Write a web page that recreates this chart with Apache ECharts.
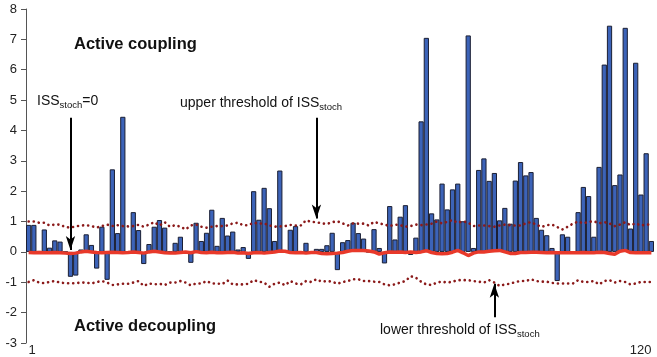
<!DOCTYPE html>
<html>
<head>
<meta charset="utf-8">
<script src="https://cdn.jsdelivr.net/npm/echarts@6/dist/echarts.min.js"></script>
<style>
  html, body { margin: 0; padding: 0; background: #fff; }
  #chart { width: 657px; height: 357px; }
</style>
</head>
<body>
<div id="chart"></div>
<script>
// categories 1..120 (sample index)
var categories = [];
for (var i = 1; i <= 120; i++) categories.push(String(i));

// bar heights
var issValues = [
  0.89, 0.89, 0.03, 0.74, 0.14, 0.38, 0.34, 0, -0.82, -0.78,
  0.08, 0.58, 0.23, -0.55, 0.83, -0.92, 2.72, 0.62, 4.45, 0,
  1.31, 0.72, -0.4, 0.26, 0.83, 1.05, 0.8, 0, 0.3, 0.5,
  0, -0.36, 0.96, 0.36, 0.63, 1.39, 0.2, 1.12, 0.54, 0.67,
  0.08, 0.16, -0.23, 2.0, 1.06, 2.11, 1.44, 0.36, 2.68, 0,
  0.73, 0.85, 0, 0.3, 0, 0.1, 0.1, 0.22, 0.63, -0.6,
  0.32, 0.39, 0.96, 0.62, 0.44, 0, 0.75, 0.13, -0.38, 1.51,
  0.41, 1.16, 1.54, -0.1, 0.47, 4.3, 7.05, 1.27, 1.07, 2.25,
  1.4, 2.06, 2.25, 1.01, 7.13, 0.13, 2.7, 3.08, 2.34, 2.6,
  1.04, 1.45, 0.93, 2.35, 2.96, 2.52, 2.63, 1.12, 0.73, 0.55,
  0.13, -0.96, 0.58, 0.5, 0, 1.31, 2.14, 1.84, 0.5, 2.8,
  6.17, 7.45, 2.2, 2.55, 7.38, 0.77, 6.23, 1.89, 3.25, 0.36
];

// ISS_stoch (red line near zero)
var issStoch = [
  -0.02, -0.03, -0.02, -0.03, -0.03, -0.02, -0.03, -0.04, -0.05, -0.04,
  0, 0.02, 0, -0.02, -0.03, -0.02, -0.01, -0.02, -0.03, -0.02,
  0, -0.02, -0.04, 0, 0.02, 0, -0.03, -0.04, -0.04, -0.02,
  0, -0.03, 0.01, -0.02, -0.03, -0.01, -0.03, -0.03, -0.02, -0.01,
  -0.04, -0.03, -0.05, -0.03, -0.02, -0.04, -0.02, 0, 0.03, 0.02,
  -0.02, -0.03, -0.02, -0.04, -0.02, -0.02, -0.05, -0.06, -0.05, -0.04,
  -0.02, 0.02, 0.05, 0.05, 0.05, 0.03, 0, -0.07, -0.03, 0,
  -0.01, 0, -0.02, 0, -0.02, 0, 0.04, -0.02, -0.05, -0.06,
  -0.05, -0.01, 0.05, -0.03, -0.12, -0.04, 0, 0, 0.02, 0.04,
  0.05, 0, -0.05, -0.05, -0.02, -0.02, -0.01, -0.01, -0.02, -0.03,
  -0.02, -0.03, -0.03, -0.03, -0.03, -0.03, -0.02, -0.03, -0.03, -0.01,
  -0.02, -0.05, -0.08, 0.02, 0.05, -0.02, -0.03, -0.03, -0.03, -0.03
];

// upper threshold of ISS_stoch (dotted)
var upperThreshold = [
  1.0, 1.0, 0.96, 0.96, 0.87, 0.9, 0.9, 0.82, 0.8, 0.84,
  0.87, 0.88, 0.85, 0.8, 0.85, 0.9, 0.85, 0.88, 0.85, 0.84,
  0.85, 0.89, 0.83, 0.9, 0.98, 0.87, 0.98, 0.83, 0.88, 0.83,
  0.74, 0.87, 0.9, 0.83, 0.8, 0.83, 0.85, 0.85, 0.87, 0.94,
  0.96, 0.88, 0.88, 0.96, 0.93, 0.94, 0.87, 0.83, 0.84, 0.85,
  0.89, 0.87, 0.87, 1.04, 0.99, 0.98, 0.94, 0.92, 0.98, 1.01,
  0.94, 0.87, 0.94, 0.93, 0.93, 0.87, 0.99, 0.94, 0.9, 0.85,
  0.9, 0.88, 0.83, 0.85, 0.9, 0.88, 0.9, 0.93, 1.0, 0.94,
  0.99, 1.05, 0.96, 1.01, 0.96, 0.85, 0.87, 0.87, 0.85, 0.83,
  0.87, 0.9, 0.88, 0.87, 0.87, 0.94, 0.98, 0.9, 0.82, 0.88,
  0.9, 0.82, 0.74, 0.83, 0.93, 1.0, 0.94, 0.99, 1.01, 0.94,
  0.98, 0.94, 0.85, 0.9, 0.98, 0.88, 0.94, 0.87, 0.9, 0.9
];

// lower threshold of ISS_stoch (dotted)
var lowerThreshold = [
  -0.99, -0.93, -1.01, -1.03, -0.99, -0.96, -1.01, -1.03, -1.03, -1.03,
  -1.01, -1.01, -1.04, -0.99, -0.96, -1.01, -1.09, -1.07, -1.05, -1.05,
  -1.01, -0.96, -1.12, -1.04, -1.07, -1.05, -1.09, -1.01, -1.01, -0.96,
  -1.01, -1.1, -1.04, -1.04, -0.96, -1.04, -1.04, -1.06, -0.94, -1.07,
  -1.07, -1.07, -1.05, -0.93, -0.98, -1.01, -1.15, -1.05, -1.01, -1.1,
  -0.96, -1.04, -1.07, -0.96, -0.99, -0.9, -0.98, -0.96, -0.98, -1.05,
  -0.99, -0.96, -0.9, -0.9, -0.96, -0.96, -0.98, -0.99, -1.07, -1.1,
  -1.07, -1.01, -0.96, -0.8, -0.85, -0.98, -1.07, -1.09, -1.01, -0.98,
  -1.01, -0.98, -0.93, -0.93, -0.93, -0.96, -0.98, -1.01, -0.93, -1.01,
  -1.12, -1.07, -1.05, -0.99, -0.96, -0.96, -0.9, -0.96, -0.98, -0.98,
  -1.02, -1.04, -1.04, -1.04, -1.04, -0.93, -0.99, -0.99, -0.96, -1.07,
  -0.96, -0.93, -1.01, -0.96, -0.99, -1.07, -1.04, -0.99, -0.99, -0.99
];

var yTicks = { min: -3, max: 8, interval: 1 };

var fontFam = 'Liberation Sans, Arial, Helvetica, sans-serif';

var myChart = echarts.init(document.getElementById('chart'));

var arrowLine = { color: '#000', width: 2, type: 'solid' };

// rich text styles for "ISS" with subscript "stoch"
var richSub = {
  a: { fontSize: 14, fontFamily: fontFam, fill: '#111', lineHeight: 17 },
  b: { fontSize: 9.5, fontFamily: fontFam, fill: '#111', lineHeight: 17, padding: [8, 0, 0, 0] }
};

var option = {
  animation: false,
  backgroundColor: '#fff',
  grid: { left: 26, right: 3, top: 9, bottom: 14 },
  xAxis: {
    type: 'category',
    data: categories,
    boundaryGap: true,
    axisLine: { show: false },
    axisTick: { show: false },
    axisLabel: {
      interval: function (idx) { return idx === 0 || idx === categories.length - 1; },
      margin: 1,
      color: '#222',
      fontSize: 13,
      fontFamily: fontFam,
      alignMinLabel: 'left',
      alignMaxLabel: 'right'
    },
    splitLine: { show: false }
  },
  yAxis: {
    type: 'value',
    min: yTicks.min,
    max: yTicks.max,
    interval: yTicks.interval,
    axisLine: { show: true, lineStyle: { color: '#555', width: 1 } },
    axisTick: { show: true, inside: false, length: 5, lineStyle: { color: '#555' } },
    axisLabel: { color: '#222', fontSize: 13, fontFamily: fontFam, margin: 9 },
    splitLine: { show: false }
  },
  series: [
    {
      name: 'ISS',
      type: 'bar',
      data: issValues,
      barCategoryGap: '0%',
      itemStyle: { color: '#3c63b8', borderColor: '#1b1f33', borderWidth: 1 },
      z: 2,
      markLine: {
        silent: true,
        symbol: ['none', 'arrow'],
        symbolSize: [7, 14],
        label: { show: false },
        lineStyle: arrowLine,
        data: [
          [{ coord: ['9', 4.42] }, { coord: ['9', 0.06] }],
          [{ coord: ['56', 4.42] }, { coord: ['56', 1.1] }],
          [{ coord: ['90', -2.15] }, { coord: ['90', -1.05] }]
        ]
      }
    },
    {
      name: 'ISSstoch',
      type: 'line',
      data: issStoch,
      symbol: 'none',
      lineStyle: { color: '#e8392a', width: 3.5 },
      z: 4
    },
    {
      name: 'upper',
      type: 'line',
      data: upperThreshold,
      symbol: 'none',
      lineStyle: { color: '#8b1a1a', width: 2.6, type: [0.1, 5], cap: 'round' },
      z: 5
    },
    {
      name: 'lower',
      type: 'line',
      data: lowerThreshold,
      symbol: 'none',
      lineStyle: { color: '#8b1a1a', width: 2.6, type: [0.1, 5], cap: 'round' },
      z: 5
    }
  ],
  graphic: [
    {
      type: 'text', left: 74, top: 36,
      style: { text: 'Active coupling', font: 'bold 16.5px ' + fontFam, fill: '#111' }
    },
    {
      type: 'text', left: 74, top: 318,
      style: { text: 'Active decoupling', font: 'bold 16.5px ' + fontFam, fill: '#111' }
    },
    {
      type: 'text', left: 37, top: 92,
      style: { text: '{a|ISS}{b|stoch}{a|=0}', rich: richSub }
    },
    {
      type: 'text', left: 180, top: 94,
      style: { text: '{a|upper threshold of ISS}{b|stoch}', rich: richSub }
    },
    {
      type: 'text', left: 380, top: 321,
      style: { text: '{a|lower threshold of ISS}{b|stoch}', rich: richSub }
    }
  ]
};

myChart.setOption(option);
</script>
</body>
</html>
